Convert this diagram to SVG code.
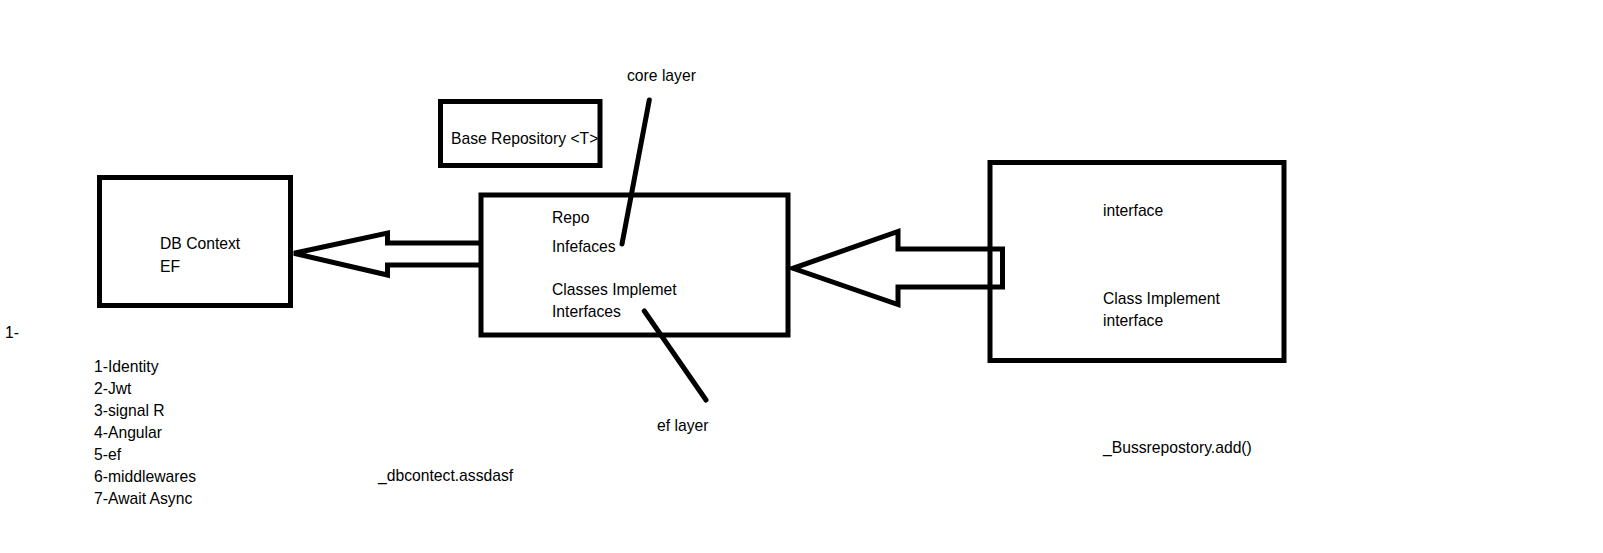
<svg xmlns="http://www.w3.org/2000/svg" width="1603" height="553" viewBox="0 0 1603 553">
<style>
.box{fill:none;stroke:#000;stroke-width:5}
.arr{fill:none;stroke:#000;stroke-width:5;stroke-linejoin:miter}
.lead{stroke:#000;stroke-width:5;stroke-linecap:round}
text{font-family:"Liberation Sans",Arial,sans-serif;font-size:15.7px;fill:#000}
</style>
<rect width="1603" height="553" fill="#fff"/>
<g id="db-context">
<rect class="box" x="99.5" y="177.5" width="191" height="128"/>
<text x="160" y="249">DB Context</text>
<text x="160" y="271.5">EF</text>
</g>
<g id="base-repository">
<rect class="box" x="440.5" y="101.5" width="159.5" height="64"/>
<text x="451" y="144">Base Repository &lt;T&gt;</text>
</g>
<g id="repo">
<rect class="box" x="481" y="195" width="307" height="140"/>
<text x="552" y="222.5">Repo</text>
<text x="552" y="251.5">Infefaces</text>
<text x="552" y="295">Classes Implemet</text>
<text x="552" y="317">Interfaces</text>
</g>
<g id="class-implement">
<rect class="box" x="990" y="162.5" width="294" height="198"/>
<text x="1103" y="216">interface</text>
<text x="1103" y="304">Class Implement</text>
<text x="1103" y="326">interface</text>
</g>
<g id="connectors">
<path class="arr" d="M481,243 L387.5,243 L387.5,233 L294,253.3 L387.5,275 L387.5,265 L481,265"/>
<path class="arr" d="M898,231.5 L898,249 L1002.5,249 L1002.5,287 L898,287 L898,304.5 L793,268.3 Z"/>
<line class="lead" x1="649.3" y1="100" x2="622" y2="244"/>
<line class="lead" x1="644.3" y1="311" x2="706" y2="400"/>
</g>
<g id="labels">
<text x="627" y="81">core layer</text>
<text x="657" y="431">ef layer</text>
<text x="1103" y="453">_Bussrepostory.add()</text>
<text x="378" y="481">_dbcontect.assdasf</text>
<text x="5" y="338">1-</text>
<text x="94" y="372">1-Identity</text>
<text x="94" y="394">2-Jwt</text>
<text x="94" y="416">3-signal R</text>
<text x="94" y="438">4-Angular</text>
<text x="94" y="460">5-ef</text>
<text x="94" y="482">6-middlewares</text>
<text x="94" y="504">7-Await Async</text>
</g>
</svg>
